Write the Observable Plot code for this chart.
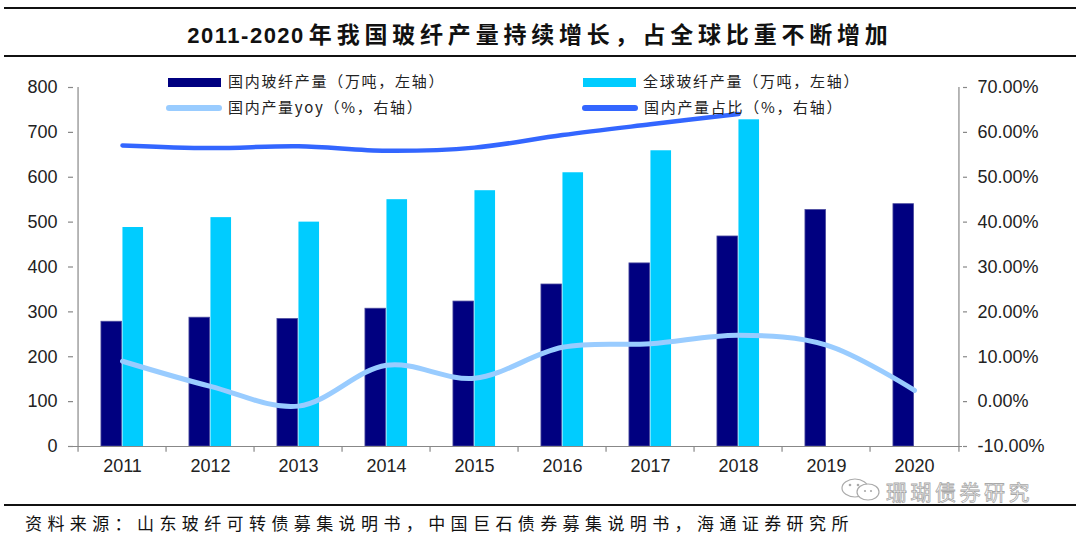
<!DOCTYPE html>
<html>
<head>
<meta charset="utf-8">
<script src="https://cdn.jsdelivr.net/npm/d3@7"></script>
<script src="https://cdn.jsdelivr.net/npm/@observablehq/plot@0.6"></script>
<style>
  html, body { margin: 0; padding: 0; background: #fff; }
  #wrap { position: relative; width: 1080px; height: 542px; overflow: hidden; background: #fff; }
  #chart { position: absolute; left: 0; top: 0; }
  .hline { position: absolute; left: 4px; width: 1072px; height: 2px; background: #111; }
  #title { position: absolute; left: 0; top: 16px; width: 1080px; text-align: center; font-weight: bold; color: #111; white-space: nowrap; }
  #title .num { font-family: "Liberation Sans", Arial, sans-serif; font-size: 22px; letter-spacing: 1.5px; }
  #title .cjk { font-family: "Noto Sans CJK SC", sans-serif; font-size: 23px; letter-spacing: 4.8px; }
  .leg { position: absolute; font-family: "Noto Sans CJK SC", sans-serif; font-size: 15px; letter-spacing: 1.7px; color: #222; white-space: nowrap; line-height: 20px; }
  .sw { position: absolute; }
  #source { position: absolute; left: 25px; top: 510px; font-family: "Noto Sans CJK SC", sans-serif; font-size: 17px; letter-spacing: 5.4px; color: #111; white-space: nowrap; line-height: 26px; }
  #wm { position: absolute; left: 886px; top: 483px; font-family: "Noto Sans CJK SC", sans-serif; font-size: 21px; letter-spacing: 3.5px; color: #fff; -webkit-text-stroke: 0.8px #a8a8a8; white-space: nowrap; line-height: 17px; }
</style>
</head>
<body>
<div id="wrap">
  <div id="chart"></div>
  <div class="hline" style="top:7px"></div>
  <div class="hline" style="top:55px"></div>
  <div id="title"></div>
  <div id="legend"></div>
  <div class="hline" style="top:504px; height:2px;"></div>
  <svg id="wmicon" style="position:absolute;left:838px;top:478px" width="48" height="24" viewBox="0 0 48 24">
    <ellipse cx="17" cy="10" rx="13" ry="9" fill="#fff" stroke="#aaa" stroke-width="1.2"/>
    <ellipse cx="30" cy="14" rx="11" ry="8" fill="#fff" stroke="#aaa" stroke-width="1.2"/>
    <circle cx="12" cy="7" r="1.3" fill="#aaa"/><circle cx="20" cy="7" r="1.3" fill="#aaa"/>
    <circle cx="27" cy="13" r="1.1" fill="#aaa"/><circle cx="33" cy="13" r="1.1" fill="#aaa"/>
  </svg>
  <div id="wm"></div>
  <div id="source"></div>
</div>
<script>
// ---- data ----
const years = ["2011","2012","2013","2014","2015","2016","2017","2018","2019","2020"];
const domesticOutput = [278, 287, 284, 307, 323, 361, 408, 468, 527, 540];   // 万吨, left axis
const globalOutput   = [488, 510, 500, 550, 570, 610, 659, 728, null, null]; // 万吨, left axis
const domesticYoY    = [9.0, 3.4, -1.0, 8.1, 5.2, 12.1, 12.9, 14.8, 12.6, 2.5]; // %, right axis
const domesticShare  = [57.1, 56.5, 56.9, 55.9, 56.6, 59.4, 61.8, 64.1];      // %, right axis
const leftTicks = [0, 100, 200, 300, 400, 500, 600, 700, 800];
const rightTicks = [-10, 0, 10, 20, 30, 40, 50, 60, 70];

const titleNum = "2011-2020";
const titleText = "年我国玻纤产量持续增长，占全球比重不断增加";
const seriesNames = ["国内玻纤产量（万吨，左轴）", "全球玻纤产量（万吨，左轴）", "国内产量yoy（%，右轴）", "国内产量占比（%，右轴）"];
const sourceText = "资料来源：山东玻纤可转债募集说明书，中国巨石债券募集说明书，海通证券研究所";
const watermark = "珊瑚债券研究";

const colors = { domestic: "#000080", global: "#00CCFF", yoy: "#99CCFF", share: "#3366FF" };

// right axis (-10%..70%) mapped onto left domain (0..800)
const toLeft = p => (p + 10) * 10;

const dom = years.map((y, i) => ({ year: y, v: domesticOutput[i] }));
const glo = years.map((y, i) => ({ year: y, v: globalOutput[i] })).filter(d => d.v != null);
const yoy = years.map((y, i) => ({ year: y, v: domesticYoY[i] }));
const shr = domesticShare.map((v, i) => ({ year: years[i], v }));

const W = 1080, H = 542, mL = 73, mR = 118, mT = 87, mB = 96;
const band = (W - mL - mR) / years.length;
const barW = 21.5;

const chart = Plot.plot({
  width: W, height: H,
  marginLeft: mL, marginRight: mR, marginTop: mT, marginBottom: mB,
  style: { fontFamily: "'Liberation Sans', Arial, sans-serif", fontSize: "18px", color: "#222", background: "transparent", overflow: "visible" },
  x: { type: "band", domain: years, padding: 0 },
  y: { domain: [0, 800] },
  marks: [
    Plot.barY(dom, { x: "year", y: "v", fill: colors.domestic, stroke: "#4b4b9e", strokeWidth: 0.8, insetLeft: band / 2 - barW, insetRight: band / 2 }),
    Plot.barY(glo, { x: "year", y: "v", fill: colors.global, insetLeft: band / 2, insetRight: band / 2 - barW }),
    Plot.ruleY([0], { stroke: "#888", strokeWidth: 1.2 }),
    Plot.ruleX(years, { x: d => d, y1: 0, y2: -13, dx: -band / 2, stroke: "#888", strokeWidth: 1.2 }),
    Plot.ruleX([years[years.length - 1]], { x: d => d, y1: 0, y2: -13, dx: band / 2, stroke: "#888", strokeWidth: 1.2 }),
    Plot.ruleX([years[0]], { x: d => d, y1: 0, y2: 800, dx: -band / 2, stroke: "#888", strokeWidth: 1.2 }),
    Plot.ruleX([years[years.length - 1]], { x: d => d, y1: 0, y2: 800, dx: band / 2, stroke: "#888", strokeWidth: 1.2 }),
    Plot.lineY(yoy, { x: "year", y: d => toLeft(d.v), stroke: colors.yoy, strokeWidth: 5, curve: "catmull-rom", strokeLinecap: "round" }),
    Plot.lineY(shr, { x: "year", y: d => toLeft(d.v), stroke: colors.share, strokeWidth: 4.5, curve: "catmull-rom", strokeLinecap: "round" }),
    Plot.axisY({ anchor: "left", ticks: leftTicks, tickSize: 5, tickPadding: 11, label: null, stroke: "#888", strokeWidth: 1.2, fill: "#222" }),
    Plot.axisY({ anchor: "right", ticks: rightTicks.map(toLeft), tickFormat: d => (d / 10 - 10).toFixed(2) + "%", tickSize: 4, tickPadding: 11, label: null, stroke: "#888", strokeWidth: 1.2, fill: "#222" }),
    Plot.axisX({ tickSize: 0, tickPadding: 13, label: null, fill: "#222" })
  ]
});
document.getElementById("chart").appendChild(chart);

// title
document.getElementById("title").innerHTML =
  `<span class="num">${titleNum}</span> <span class="cjk">${titleText}</span>`;

// legend
const legend = document.getElementById("legend");
const legItems = [
  { name: seriesNames[0], color: colors.domestic, kind: "rect", x: 168, y: 82 },
  { name: seriesNames[1], color: colors.global, kind: "rect", x: 583, y: 82 },
  { name: seriesNames[2], color: colors.yoy, kind: "line", x: 166, y: 108 },
  { name: seriesNames[3], color: colors.share, kind: "line", x: 582, y: 108 }
];
for (const it of legItems) {
  const sw = document.createElement("div");
  sw.className = "sw";
  if (it.kind === "rect") {
    Object.assign(sw.style, { left: it.x + "px", top: (it.y - 4) + "px", width: "53px", height: "9px", background: it.color });
  } else {
    Object.assign(sw.style, { left: it.x + "px", top: (it.y - 3) + "px", width: "56px", height: "6px", background: it.color, borderRadius: "3px" });
  }
  legend.appendChild(sw);
  const t = document.createElement("div");
  t.className = "leg";
  t.textContent = it.name;
  Object.assign(t.style, { left: (it.kind === "rect" ? it.x + 60 : it.x + 62) + "px", top: (it.y - 11) + "px" });
  legend.appendChild(t);
}

document.getElementById("source").textContent = sourceText;
document.getElementById("wm").textContent = watermark;
</script>
</body>
</html>
